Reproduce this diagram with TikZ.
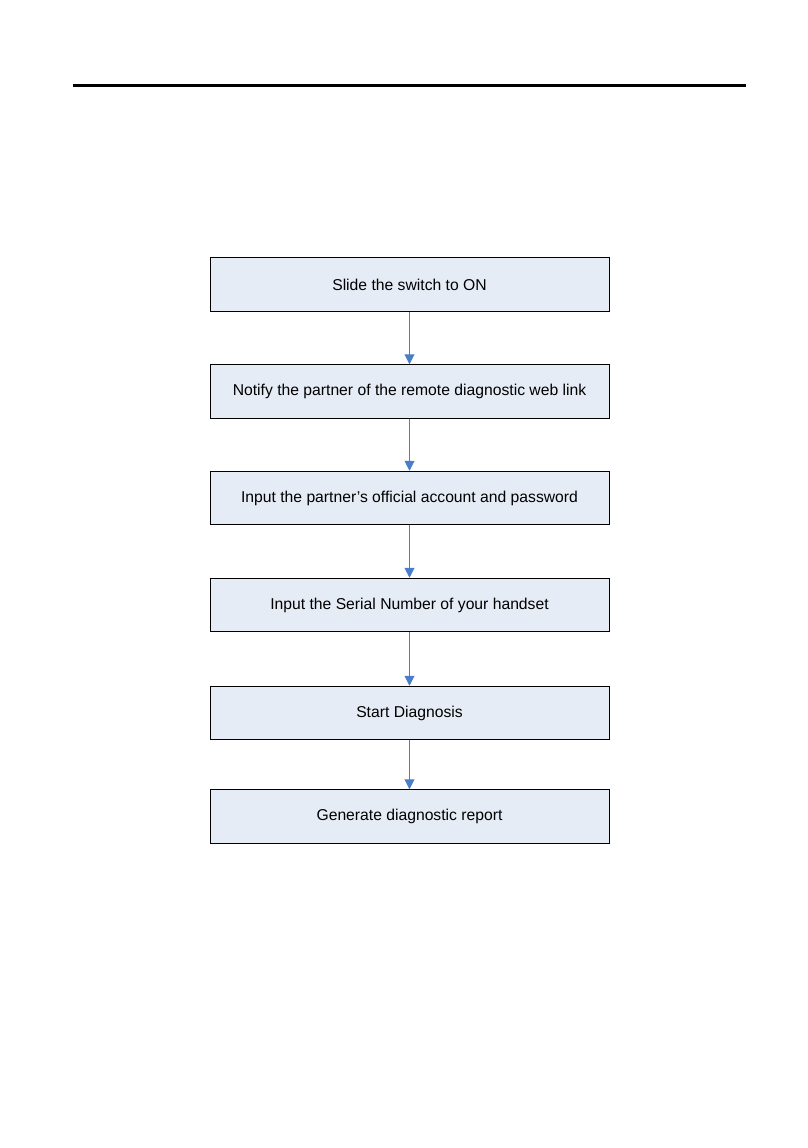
\documentclass[tikz,border=0pt]{standalone}
\usepackage{fontspec}
\setmainfont{Liberation Sans}
\usetikzlibrary{arrows.meta}
\definecolor{boxfill}{HTML}{E6ECF6}
\definecolor{arrowblue}{HTML}{4A7EC8}
\tikzset{
  stepbox/.style={draw=black, line width=1pt, fill=boxfill, minimum width=399pt, minimum height=53.5pt, inner sep=0pt, font=\fontsize{15.7}{18}\selectfont},
  flow/.style={draw=arrowblue, line width=1pt, -{Triangle[width=10pt,length=10pt]}}
}
\begin{document}
\begin{tikzpicture}[x=1pt,y=-1pt]
\useasboundingbox (0,0) rectangle (808,1148);
\draw[line width=2.2pt] (73,85.5) -- (746,85.5);
\node[stepbox] (s1) at (409.5,284.5) {Slide the switch to ON};
\node[stepbox] (s2) at (409.5,391.5) {Notify the partner of the remote diagnostic web link};
\node[stepbox] (s3) at (409.5,498) {Input the partner's official account and password};
\node[stepbox] (s4) at (409.5,605) {Input the Serial Number of your handset};
\node[stepbox] (s5) at (409.5,713) {Start Diagnosis};
\node[stepbox] (s6) at (409.5,816.5) {Generate diagnostic report};
\draw[flow] (s1) -- (s2);
\draw[flow] (s2) -- (s3);
\draw[flow] (s3) -- (s4);
\draw[flow] (s4) -- (s5);
\draw[flow] (s5) -- (s6);
\end{tikzpicture}
\end{document}
